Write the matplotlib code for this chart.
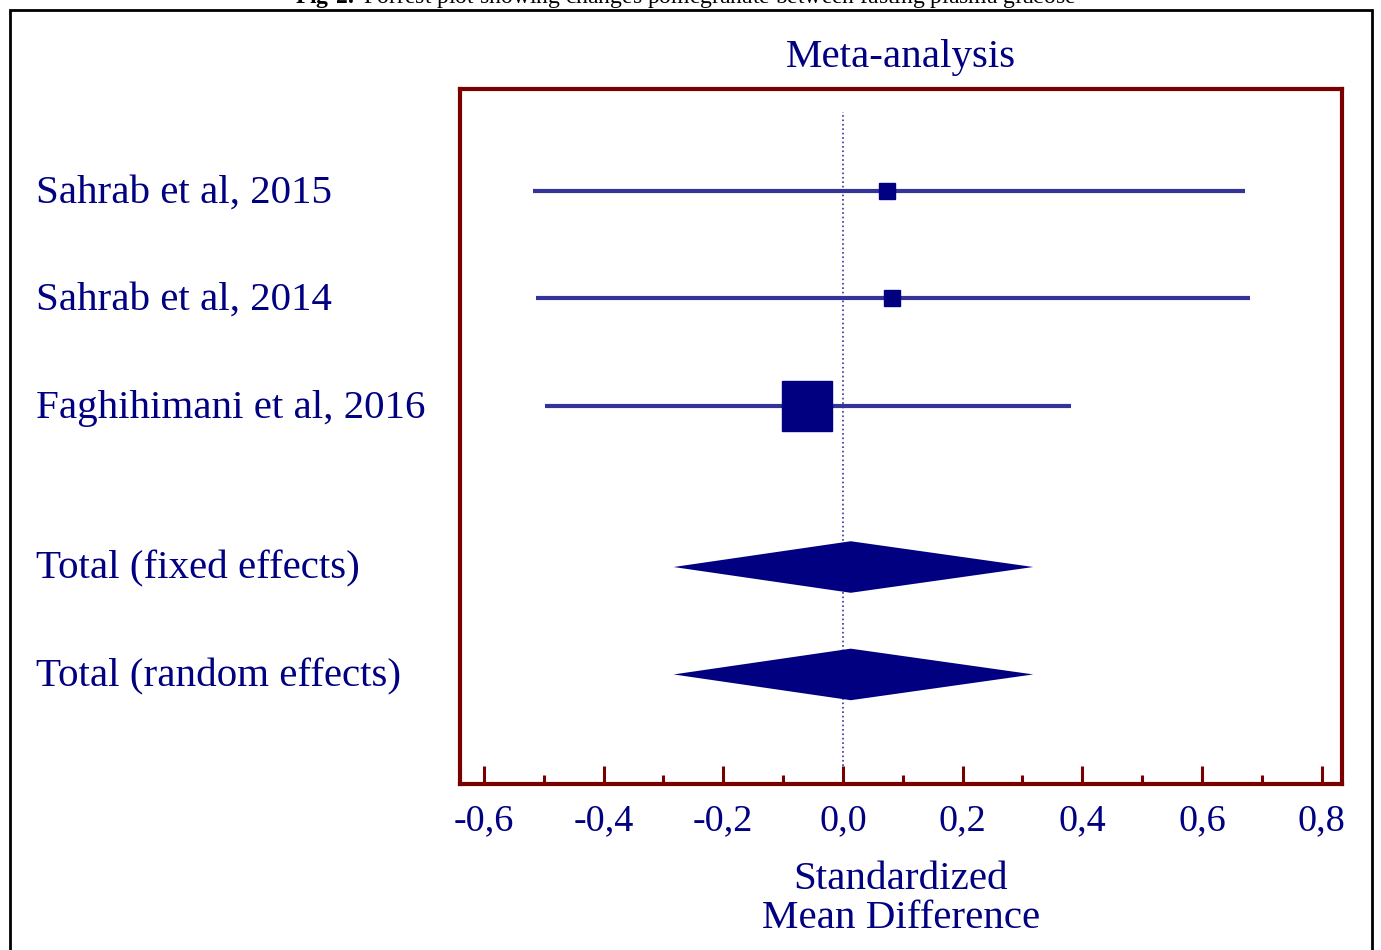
import matplotlib
matplotlib.use("Agg")
import matplotlib.pyplot as plt
import matplotlib.transforms as mtransforms
from matplotlib.patches import Rectangle

# study rows
studies = ["Sahrab et al, 2015", "Sahrab et al, 2014", "Faghihimani et al, 2016"]
smd = [0.074, 0.082, -0.060]
ci_low = [-0.518, -0.513, -0.498]
ci_high = [0.672, 0.681, 0.381]
weights = [12, 12, 36]  # marker size in points

# pooled rows
totals = ["Total (fixed effects)", "Total (random effects)"]
tot_est = [0.013, 0.013]
tot_low = [-0.283, -0.283]
tot_high = [0.318, 0.318]

xticks_major = [-0.6, -0.4, -0.2, 0.0, 0.2, 0.4, 0.6, 0.8]
xticks_minor = [-0.5, -0.3, -0.1, 0.1, 0.3, 0.5, 0.7]
xtick_labels = ["-0,6", "-0,4", "-0,2", "0,0", "0,2", "0,4", "0,6", "0,8"]

navy = "#000080"
line_col = "#333399"
frame_col = "#7a0000"
plt.rcParams['font.family'] = ['Liberation Serif', 'DejaVu Serif']
plt.rcParams['mathtext.fontset'] = 'custom'
plt.rcParams['mathtext.rm'] = 'Liberation Serif'
plt.rcParams['mathtext.bf'] = 'Liberation Serif:bold'

fig = plt.figure(figsize=(13.81, 9.50), dpi=100)
ax = fig.add_axes([460 / 1381, 1 - 784 / 950, 882 / 1381, 695 / 950])

study_y = [0, 1, 2]
total_y = [3.5, 4.5]

for y, m, lo, hi, w in zip(study_y, smd, ci_low, ci_high, weights):
    ax.plot([lo, hi], [y, y], color=line_col, lw=3, solid_capstyle='butt', zorder=2)
    ax.plot(m, y, marker='s', ms=w, color=navy, mec=navy, zorder=3)

h = 0.24
for y, m, lo, hi in zip(total_y, tot_est, tot_low, tot_high):
    ax.fill([lo, m, hi, m], [y, y - h, y, y + h], color=navy, zorder=3, lw=0)

ax.axvline(0, ymin=0.026, ymax=0.967, color=line_col, ls=':', lw=1.2, zorder=1)

ax.set_xlim(-0.640, 0.834)
ax.set_ylim(5.52, -0.95)

ax.set_yticks([])
ax.set_xticks(xticks_major)
ax.set_xticks(xticks_minor, minor=True)
ax.set_xticklabels(xtick_labels, fontsize=27.5, color=navy)
ax.tick_params(axis='x', which='major', direction='in', length=13, width=2.2,
               color=frame_col, pad=14)
ax.tick_params(axis='x', which='minor', direction='in', length=6.5, width=2.2,
               color=frame_col)
for sp in ax.spines.values():
    sp.set_color(frame_col)
    sp.set_linewidth(3)

trans = mtransforms.blended_transform_factory(fig.transFigure, ax.transData)
for y, name in zip(study_y + total_y, studies + totals):
    ax.text(36 / 1381, y + 0.02, name, transform=trans, fontsize=29.5, color=navy,
            va='center', ha='left', clip_on=False)

fig.text(901 / 1381, 1 - 57 / 950, "Meta-analysis", fontsize=29.5, color=navy,
         ha='center', va='center')
fig.text(901 / 1381, 1 - 899 / 950, "Standardized\nMean Difference", fontsize=29.5,
         color=navy, ha='center', va='center', linespacing=1.07)

# caption, cut at the very top as in the source
fig.text(686 / 1381, 1 - 3 / 950,
         r"$\mathbf{Fig\ 2.}$ Forrest plot showing changes pomegranate between fasting plasma glucose",
         fontsize=17, color='black', ha='center', va='baseline')

fig.patches.append(Rectangle((10 / 1381, -0.1), 1362 / 1381, 1.1 - 10 / 950,
                             transform=fig.transFigure, fill=False,
                             edgecolor='black', lw=2))

fig.savefig("out.png", dpi=100)
